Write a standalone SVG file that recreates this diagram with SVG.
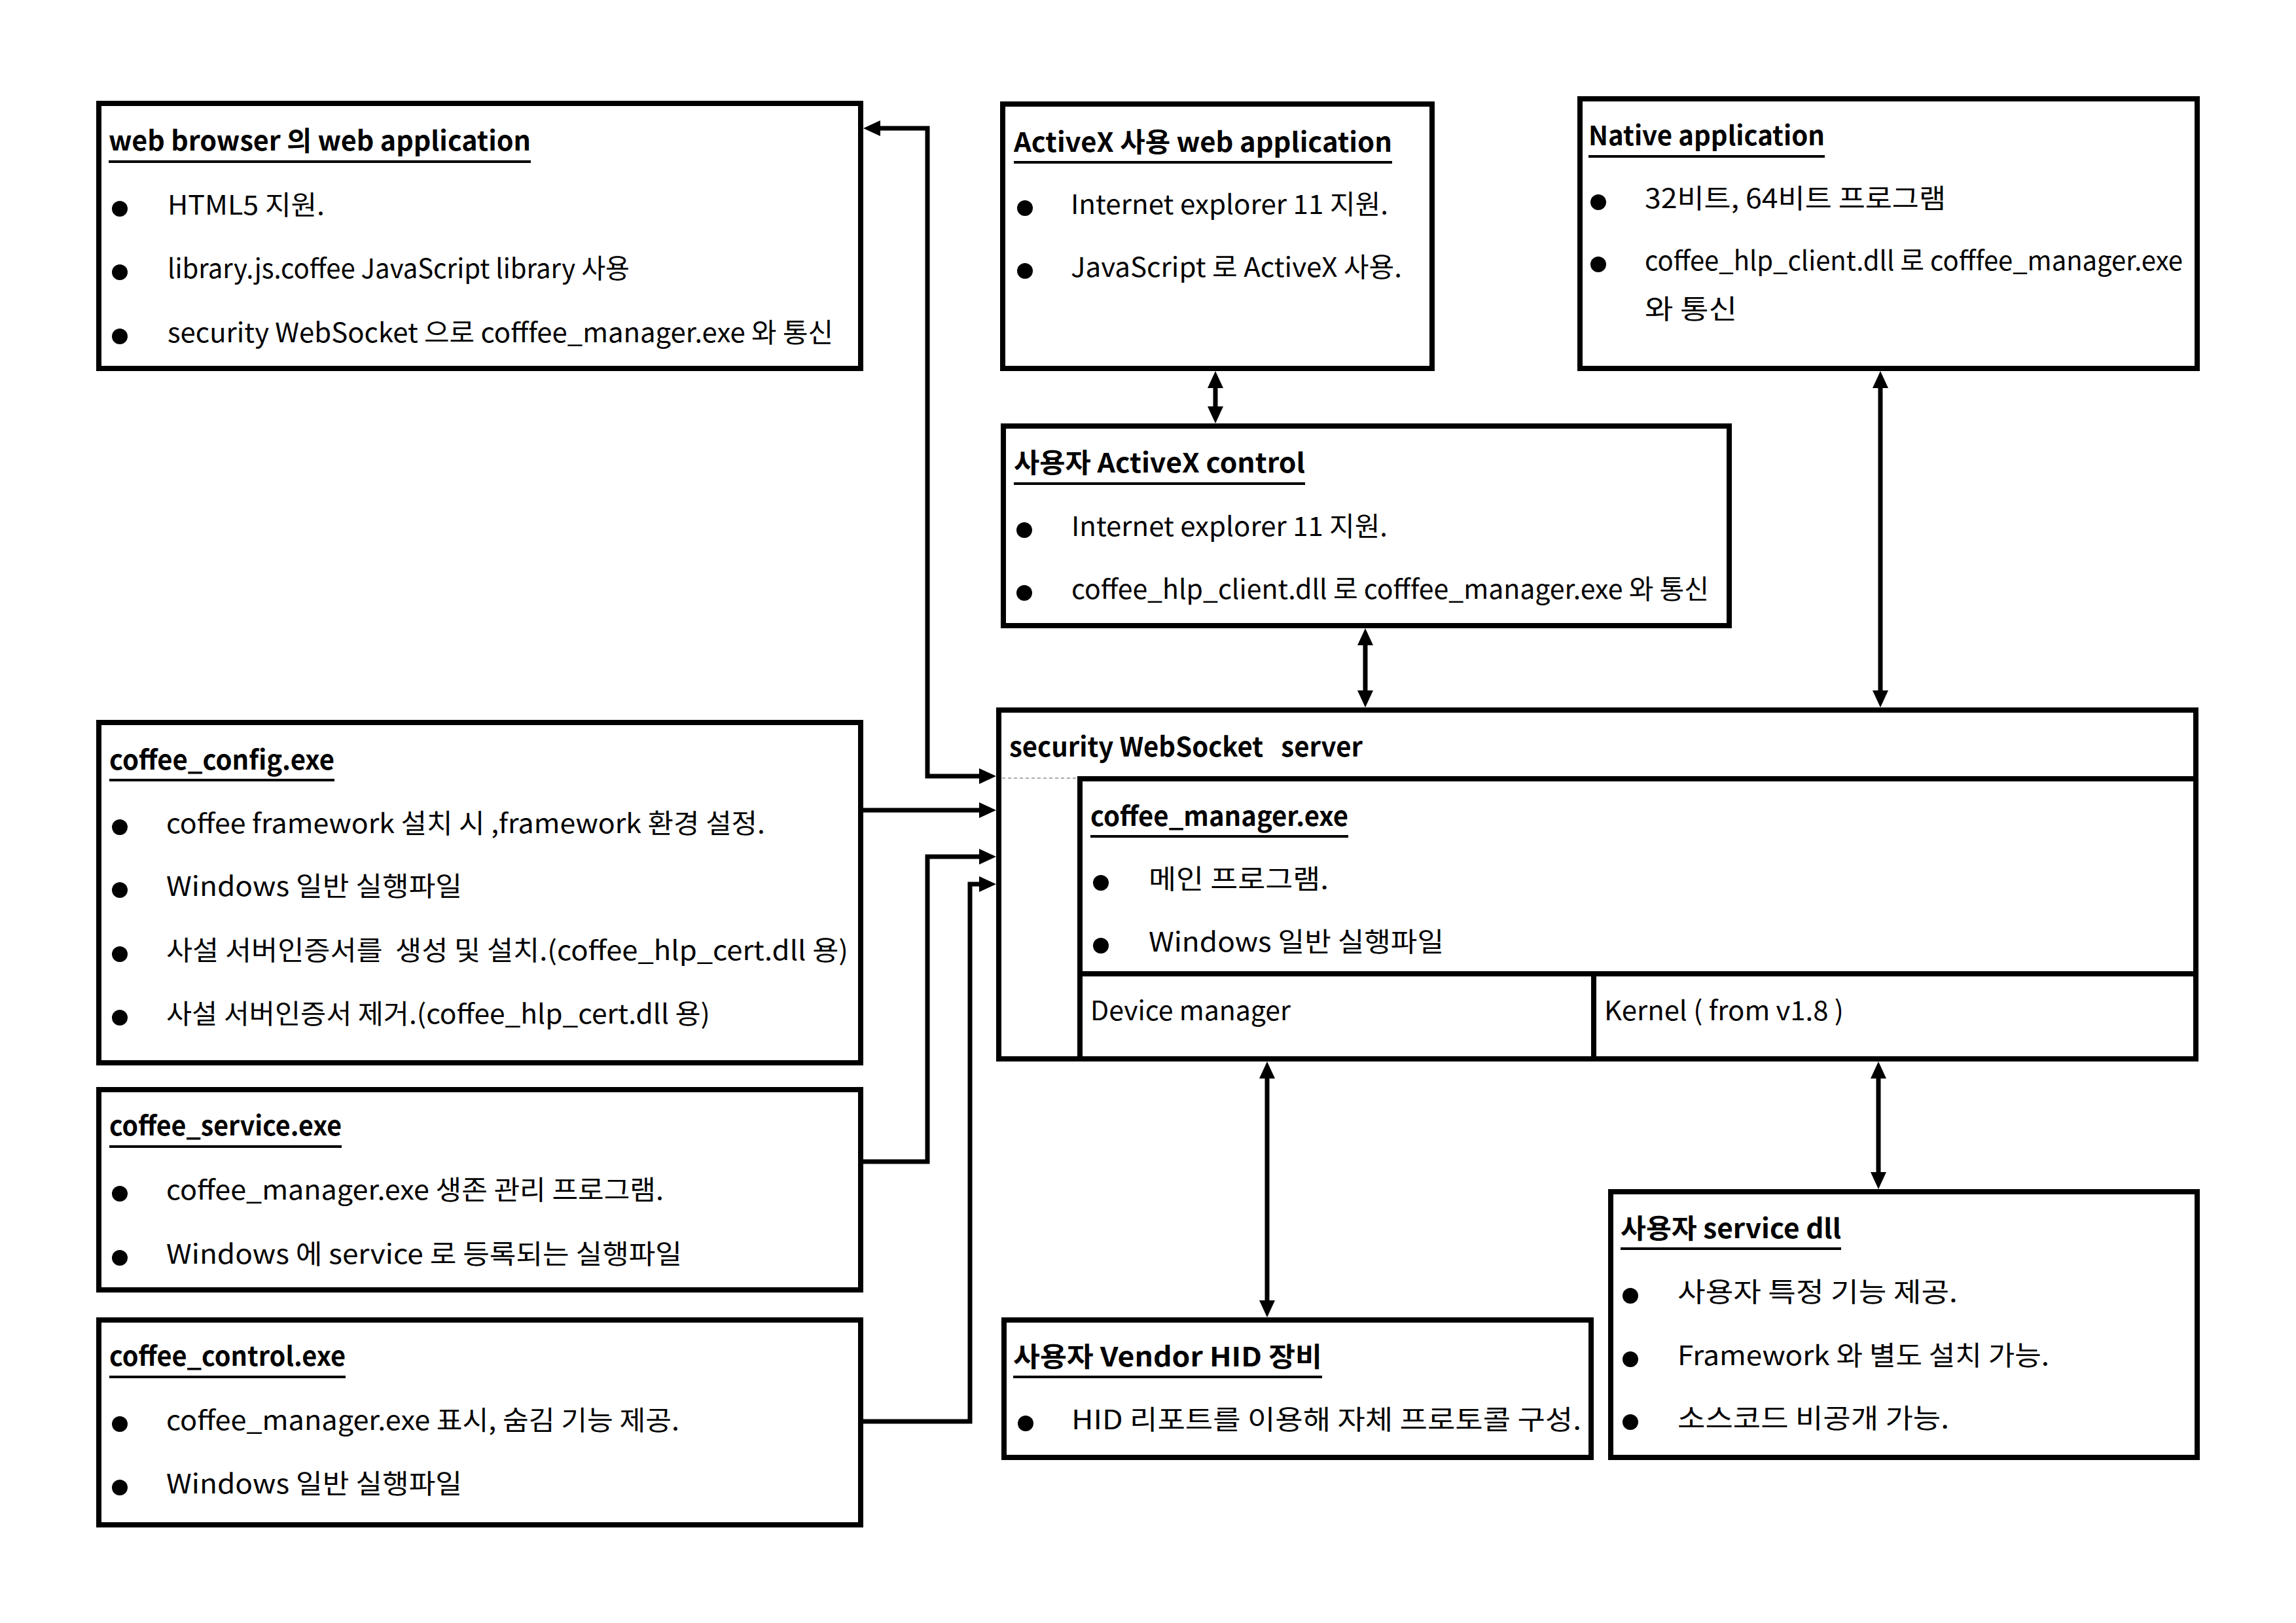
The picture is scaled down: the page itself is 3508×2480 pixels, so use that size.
<svg xmlns="http://www.w3.org/2000/svg" width="3508" height="2480" viewBox="0 0 3508 2480">
<defs>
<style>
.box{fill:#fff;stroke:#000;stroke-width:8}
.ln{stroke:#000;stroke-width:8;fill:none}
.t{font-family:"Noto Sans CJK KR","Malgun Gothic","Noto Sans",sans-serif;font-size:41px;fill:#000}
.h{font-weight:bold}
.ul{stroke:#000;stroke-width:4}
.bul{fill:#000}
.conn{fill:none;stroke:#000;stroke-width:7;stroke-linejoin:miter}
.vc{fill:none;stroke:#000;stroke-width:7}
.dot{stroke:#aaa;stroke-width:2;stroke-dasharray:5 4;fill:none}
</style>
<marker id="arr" markerUnits="userSpaceOnUse" viewBox="0 0 26 24" markerWidth="26" markerHeight="24" refX="3" refY="12" orient="auto-start-reverse">
<path d="M0,0 L26,12 L0,24 z" fill="#000"/>
</marker>
</defs>
<rect x="0" y="0" width="3508" height="2480" fill="#fff"/>

<g id="connectors">
<path class="conn" d="M1342,196 H1417 V1186 H1499" marker-start="url(#arr)" marker-end="url(#arr)"/>
<path class="conn" d="M1315,1238 H1499" marker-end="url(#arr)"/>
<path class="conn" d="M1315,1775 H1417 V1309 H1499" marker-end="url(#arr)"/>
<path class="conn" d="M1315,2172 H1482 V1351 H1499" marker-end="url(#arr)"/>
<path class="vc" d="M1857,590 V624" marker-start="url(#arr)" marker-end="url(#arr)"/>
<path class="vc" d="M2086,983 V1058" marker-start="url(#arr)" marker-end="url(#arr)"/>
<path class="vc" d="M2873,590 V1058" marker-start="url(#arr)" marker-end="url(#arr)"/>
<path class="vc" d="M1936,1645 V1990" marker-start="url(#arr)" marker-end="url(#arr)"/>
<path class="vc" d="M2870,1645 V1794" marker-start="url(#arr)" marker-end="url(#arr)"/>
</g>

<g id="web_browser_app">
<rect class="box" x="151" y="158" width="1164" height="405"/>
<text class="t h" x="166" y="230" textLength="645" lengthAdjust="spacingAndGlyphs">web browser 의 web application</text>
<line class="ul" x1="166" y1="247" x2="811" y2="247"/>
<circle class="bul" cx="183" cy="319" r="12"/>
<text class="t" x="256" y="328" textLength="240" lengthAdjust="spacingAndGlyphs">HTML5 지원.</text>
<circle class="bul" cx="183" cy="416" r="12"/>
<text class="t" x="256" y="425" textLength="706" lengthAdjust="spacingAndGlyphs">library.js.coffee JavaScript library 사용</text>
<circle class="bul" cx="183" cy="514" r="12"/>
<text class="t" x="256" y="523" textLength="1017" lengthAdjust="spacingAndGlyphs">security WebSocket 으로 cofffee_manager.exe 와 통신</text>
</g>

<g id="activex_web_app">
<rect class="box" x="1532" y="159" width="656" height="404"/>
<text class="t h" x="1549" y="232" textLength="578" lengthAdjust="spacingAndGlyphs">ActiveX 사용 web application</text>
<line class="ul" x1="1549" y1="248" x2="2127" y2="248"/>
<circle class="bul" cx="1566" cy="318" r="12"/>
<text class="t" x="1636" y="327" textLength="485" lengthAdjust="spacingAndGlyphs">Internet explorer 11 지원.</text>
<circle class="bul" cx="1566" cy="414" r="12"/>
<text class="t" x="1636" y="423" textLength="506" lengthAdjust="spacingAndGlyphs">JavaScript 로 ActiveX 사용.</text>
</g>

<g id="native_app">
<rect class="box" x="2414" y="151" width="943" height="412"/>
<text class="t h" x="2427" y="222" textLength="361" lengthAdjust="spacingAndGlyphs">Native application</text>
<line class="ul" x1="2427" y1="239" x2="2788" y2="239"/>
<circle class="bul" cx="2442" cy="309" r="12"/>
<text class="t" x="2513" y="318" textLength="460" lengthAdjust="spacingAndGlyphs">32비트, 64비트 프로그램</text>
<circle class="bul" cx="2442" cy="404" r="12"/>
<text class="t" x="2513" y="413" textLength="822" lengthAdjust="spacingAndGlyphs">coffee_hlp_client.dll 로 cofffee_manager.exe</text>
<text class="t" x="2513" y="487" textLength="141" lengthAdjust="spacingAndGlyphs">와 통신</text>
</g>

<g id="activex_control">
<rect class="box" x="1533" y="651" width="1109" height="305"/>
<text class="t h" x="1549" y="722" textLength="445" lengthAdjust="spacingAndGlyphs">사용자 ActiveX control</text>
<line class="ul" x1="1549" y1="739" x2="1994" y2="739"/>
<circle class="bul" cx="1565" cy="810" r="12"/>
<text class="t" x="1637" y="819" textLength="483" lengthAdjust="spacingAndGlyphs">Internet explorer 11 지원.</text>
<circle class="bul" cx="1565" cy="906" r="12"/>
<text class="t" x="1637" y="915" textLength="974" lengthAdjust="spacingAndGlyphs">coffee_hlp_client.dll 로 cofffee_manager.exe 와 통신</text>
</g>

<g id="websocket_server">
<rect class="box" x="1526" y="1085" width="1829" height="533"/>
<line class="dot" x1="1531" y1="1189" x2="1646" y2="1189"/>
<text class="t h" x="1542" y="1156" textLength="540" lengthAdjust="spacingAndGlyphs" xml:space="preserve">security WebSocket   server</text>
<g id="coffee_manager">
<rect class="ln" x="1650" y="1190" width="1705" height="428"/>
<line class="ln" x1="1650" y1="1488" x2="3355" y2="1488"/>
<line class="ln" x1="2435" y1="1488" x2="2435" y2="1618"/>
<text class="t h" x="1666" y="1262" textLength="394" lengthAdjust="spacingAndGlyphs">coffee_manager.exe</text>
<line class="ul" x1="1666" y1="1278" x2="2060" y2="1278"/>
<circle class="bul" cx="1682" cy="1349" r="12"/>
<text class="t" x="1755" y="1358" textLength="275" lengthAdjust="spacingAndGlyphs">메인 프로그램.</text>
<circle class="bul" cx="1682" cy="1445" r="12"/>
<text class="t" x="1755" y="1454" textLength="451" lengthAdjust="spacingAndGlyphs">Windows 일반 실행파일</text>
</g>
<g id="device_manager">
<text class="t" x="1666" y="1559" textLength="306" lengthAdjust="spacingAndGlyphs">Device manager</text>
</g>
<g id="kernel">
<text class="t" x="2451" y="1559" textLength="366" lengthAdjust="spacingAndGlyphs">Kernel ( from v1.8 )</text>
</g>
</g>

<g id="vendor_hid">
<rect class="box" x="1534" y="2017" width="897" height="210"/>
<text class="t h" x="1548" y="2088" textLength="472" lengthAdjust="spacingAndGlyphs">사용자 Vendor HID 장비</text>
<line class="ul" x1="1548" y1="2104" x2="2020" y2="2104"/>
<circle class="bul" cx="1567" cy="2175" r="12"/>
<text class="t" x="1637" y="2184" textLength="779" lengthAdjust="spacingAndGlyphs">HID 리포트를 이용해 자체 프로토콜 구성.</text>
</g>

<g id="service_dll">
<rect class="box" x="2461" y="1821" width="896" height="406"/>
<text class="t h" x="2476" y="1892" textLength="337" lengthAdjust="spacingAndGlyphs">사용자 service dll</text>
<line class="ul" x1="2476" y1="1908" x2="2813" y2="1908"/>
<circle class="bul" cx="2491" cy="1980" r="12"/>
<text class="t" x="2563" y="1989" textLength="428" lengthAdjust="spacingAndGlyphs">사용자 특정 기능 제공.</text>
<circle class="bul" cx="2491" cy="2077" r="12"/>
<text class="t" x="2563" y="2086" textLength="568" lengthAdjust="spacingAndGlyphs">Framework 와 별도 설치 가능.</text>
<circle class="bul" cx="2491" cy="2173" r="12"/>
<text class="t" x="2563" y="2182" textLength="415" lengthAdjust="spacingAndGlyphs">소스코드 비공개 가능.</text>
</g>

<g id="coffee_config">
<rect class="box" x="151" y="1104" width="1164" height="520"/>
<text class="t h" x="167" y="1176" textLength="344" lengthAdjust="spacingAndGlyphs">coffee_config.exe</text>
<line class="ul" x1="167" y1="1192" x2="511" y2="1192"/>
<circle class="bul" cx="183" cy="1264" r="12"/>
<text class="t" x="254" y="1273" textLength="915" lengthAdjust="spacingAndGlyphs">coffee framework 설치 시 ,framework 환경 설정.</text>
<circle class="bul" cx="183" cy="1360" r="12"/>
<text class="t" x="254" y="1369" textLength="452" lengthAdjust="spacingAndGlyphs">Windows 일반 실행파일</text>
<circle class="bul" cx="183" cy="1458" r="12"/>
<text class="t" x="254" y="1467" textLength="1042" lengthAdjust="spacingAndGlyphs" xml:space="preserve">사설 서버인증서를  생성 및 설치.(coffee_hlp_cert.dll 용)</text>
<circle class="bul" cx="183" cy="1555" r="12"/>
<text class="t" x="254" y="1564" textLength="831" lengthAdjust="spacingAndGlyphs">사설 서버인증서 제거.(coffee_hlp_cert.dll 용)</text>
</g>

<g id="coffee_service">
<rect class="box" x="151" y="1665" width="1164" height="306"/>
<text class="t h" x="167" y="1735" textLength="355" lengthAdjust="spacingAndGlyphs">coffee_service.exe</text>
<line class="ul" x1="167" y1="1752" x2="522" y2="1752"/>
<circle class="bul" cx="183" cy="1824" r="12"/>
<text class="t" x="254" y="1833" textLength="760" lengthAdjust="spacingAndGlyphs">coffee_manager.exe 생존 관리 프로그램.</text>
<circle class="bul" cx="183" cy="1922" r="12"/>
<text class="t" x="254" y="1931" textLength="788" lengthAdjust="spacingAndGlyphs">Windows 에 service 로 등록되는 실행파일</text>
</g>

<g id="coffee_control">
<rect class="box" x="151" y="2017" width="1164" height="313"/>
<text class="t h" x="167" y="2087" textLength="361" lengthAdjust="spacingAndGlyphs">coffee_control.exe</text>
<line class="ul" x1="167" y1="2104" x2="528" y2="2104"/>
<circle class="bul" cx="183" cy="2176" r="12"/>
<text class="t" x="254" y="2185" textLength="784" lengthAdjust="spacingAndGlyphs">coffee_manager.exe 표시, 숨김 기능 제공.</text>
<circle class="bul" cx="183" cy="2273" r="12"/>
<text class="t" x="254" y="2282" textLength="452" lengthAdjust="spacingAndGlyphs">Windows 일반 실행파일</text>
</g>
</svg>
